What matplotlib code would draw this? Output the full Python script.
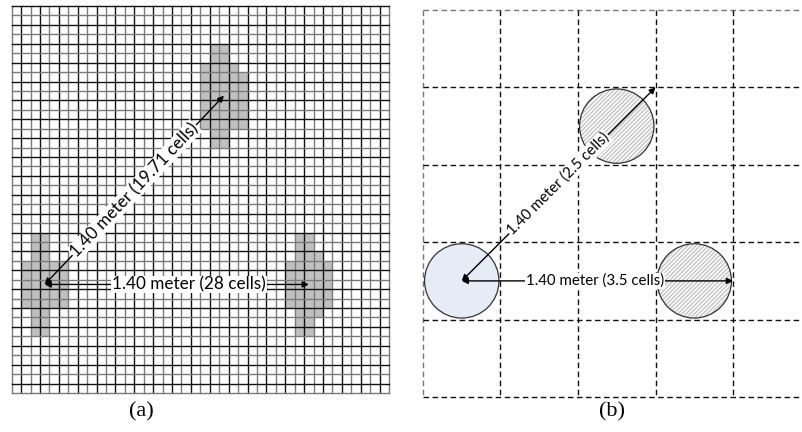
import numpy as np
import matplotlib
matplotlib.use('Agg')
from matplotlib import pyplot as plt
from matplotlib.patches import Rectangle, Circle

W, H = 803, 432

# (a) fine grid, in cells
fine_cols = 40
fine_rows = 41
# gray blocks: (col0, col1, row0, row1)
blob_left = [(2, 4, 24, 35), (1, 6, 27, 32)]
blob_right = [(30, 32, 24, 35), (30, 33, 26, 33), (29, 34, 27, 32)]
blob_top = [(21, 23, 4, 15), (20, 24, 6, 7), (20, 25, 7, 13)]
fine_start = (3.5, 29.5)
fine_end_h = (31.5, 29.5)
fine_end_d = (22.5, 9.5)
label_h_a = "1.40 meter (28 cells)"
label_d_a = "1.40 meter (19.71 cells)"

# (b) coarse grid, in cells
coarse_n = 5
circle_agent = (0.5, 3.5)
circle_top = (2.5, 1.5)
circle_right = (3.5, 3.5)
radius = 0.48
coarse_end_h = (4.0, 3.5)
coarse_end_d = (3.0, 1.0)
label_h_b = "1.40 meter (3.5 cells)"
label_d_b = "1.40 meter (2.5 cells)"

TXT = ['Lato', 'DejaVu Sans']


def px_axes(fig, x0, y0, x1, y1):
    # pixel box (top-left origin) -> figure axes
    return fig.add_axes([x0 / W, 1 - y1 / H, (x1 - x0) / W, (y1 - y0) / H])


fig = plt.figure(figsize=(W / 100, H / 100), dpi=100)

# ---- panel (a)
ax = px_axes(fig, 11.7, 6, 389, 393)
ax.set_xlim(0, fine_cols)
ax.set_ylim(fine_rows, 0)
ax.axis('off')
for blob in (blob_left, blob_right, blob_top):
    for c0, c1, r0, r1 in blob:
        ax.add_patch(Rectangle((c0, r0), c1 - c0, r1 - r0, color='#c0c0c0', lw=0, zorder=1))
for i in range(fine_cols + 1):
    ax.plot([i, i], [0, fine_rows], color='#7a7a7a' if i % 2 == 0 else '#111111', lw=1.0, zorder=2, clip_on=False)
for j in range(fine_rows + 1):
    ax.plot([0, fine_cols], [j, j], color='#111111' if j % 2 == 0 else '#7a7a7a', lw=1.0, zorder=2, clip_on=False)

arrow = dict(arrowstyle='<|-|>', color='black', lw=1.0, shrinkA=0, shrinkB=0, mutation_scale=9)
ax.annotate('', xy=fine_end_h, xytext=fine_start, arrowprops=arrow, zorder=3)
ax.annotate('', xy=fine_end_d, xytext=fine_start, arrowprops=arrow, zorder=3)
box = dict(facecolor='white', edgecolor='none', pad=0.6)
ax.text(18.8, 29.5, label_h_a, family=TXT, fontsize=12.3, ha='center', va='center', bbox=box, zorder=4)
ang_a = np.degrees(np.arctan2((fine_start[1] - fine_end_d[1]) * 387 / fine_rows,
                              (fine_end_d[0] - fine_start[0]) * 377.3 / fine_cols))
ax.text(13.0, 19.5, label_d_a, family=TXT, fontsize=12.3, ha='center', va='center',
        rotation=ang_a, rotation_mode='anchor', bbox=box, zorder=4)

# ---- panel (b)
bx = px_axes(fig, 423, 10, 810.5, 397)
bx.set_xlim(0, coarse_n)
bx.set_ylim(coarse_n, 0)
bx.axis('off')
for i in range(coarse_n + 1):
    c = '#777777' if i == 0 else '#111111'
    bx.plot([i, i], [0, coarse_n], color=c, lw=1.0, ls=(0, (4, 2.5)), zorder=1, clip_on=False)
    bx.plot([0, coarse_n], [i, i], color=c, lw=1.0, ls=(0, (4, 2.5)), zorder=1, clip_on=False)

bx.add_patch(Circle(circle_agent, radius, facecolor='#e6ecf7', edgecolor='#333333', lw=0.9, zorder=2))
for ctr in (circle_top, circle_right):
    bx.add_patch(Circle(ctr, radius, facecolor='white', edgecolor='#c4c4c4', hatch='////////', lw=0, zorder=2))
    bx.add_patch(Circle(ctr, radius, facecolor='none', edgecolor='#333333', lw=0.9, zorder=2))

bx.annotate('', xy=coarse_end_h, xytext=circle_agent, arrowprops=arrow, zorder=3)
bx.annotate('', xy=coarse_end_d, xytext=circle_agent, arrowprops=arrow, zorder=3)
bx.text(2.22, 3.5, label_h_b, family=TXT, fontsize=10.8, ha='center', va='center', bbox=box, zorder=4)
bx.text(1.75, 2.25, label_d_b, family=TXT, fontsize=10.8, ha='center', va='center',
        rotation=45, rotation_mode='anchor', bbox=box, zorder=4)

fig.text(141 / W, 1 - 412 / H, '(a)', family='Liberation Serif', fontsize=16, ha='center', va='center')
fig.text(612 / W, 1 - 412 / H, '(b)', family='Liberation Serif', fontsize=16, ha='center', va='center')

fig.savefig('out.png', dpi=100)
